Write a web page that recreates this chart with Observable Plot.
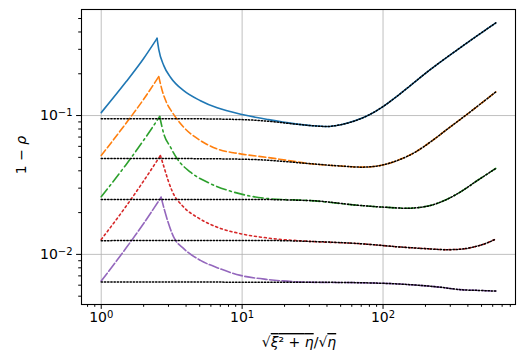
<!DOCTYPE html>
<html><head><meta charset="utf-8">
<script src="https://cdn.jsdelivr.net/npm/d3@7"></script>
<script src="https://cdn.jsdelivr.net/npm/@observablehq/plot@0.6"></script>
<style>
body{margin:0;background:#fff;}
svg{font-family:"DejaVu Sans",sans-serif;}
</style>
</head><body><div id="chart"></div>
<script>
// ---- data ----
const colors = ["#1f77b4", "#ff7f0e", "#2ca02c", "#d62728", "#9467bd"];
const dashes = ["none", "7,3", "10,3.5,2,3.5", "2,3", "10,2.5"];

// coloured curves (rise to peak, decay toward asymptote)
const s1X = [1, 1.5, 2, 2.49, 2.56, 2.78, 3.10, 3.85, 5.06, 6.65, 10, 15.4, 23.2];
const s1Y = [0.105, 0.175, 0.258, 0.36, 0.30, 0.229, 0.189, 0.151, 0.128, 0.1136, 0.1017, 0.0935, 0.0875];
const s2X = [1, 1.5, 2, 2.56, 2.71, 2.94, 3.19, 3.85, 5.06, 6.65, 9.73, 15.4, 21];
const s2Y = [0.0516, 0.088, 0.131, 0.191, 0.151, 0.121, 0.1056, 0.0824, 0.066, 0.0575, 0.053, 0.0498, 0.0475];
const s3X = [1, 1.5, 2, 2.60, 2.78, 3.10, 3.46, 4.30, 5.96, 8.71, 15.4];
const s3Y = [0.026, 0.0443, 0.0664, 0.0984, 0.0738, 0.0592, 0.0488, 0.0391, 0.0323, 0.0281, 0.0252];
const s4X = [1, 1.5, 2, 2.63, 2.80, 3.0, 3.19, 3.85, 4.80, 6.65, 9.73, 15.4];
const s4Y = [0.0128, 0.0222, 0.0338, 0.0515, 0.042, 0.0335, 0.0285, 0.0219, 0.0185, 0.0157, 0.0141, 0.0131];
const s5X = [1, 1.5, 2, 2.66, 2.86, 3.27, 3.85, 5.06, 6.65, 9.73, 15.4];
const s5Y = [0.00642, 0.0111, 0.0167, 0.0258, 0.0196, 0.0133, 0.011, 0.00905, 0.00802, 0.00706, 0.00658];

// black dotted asymptotes
const d1X = [1, 3.16, 10, 13.5, 23.2, 31.6, 39.8, 50.1, 63.1, 79.4, 100, 126, 158, 216, 372, 631];
const d1Y = [0.095, 0.095, 0.0935, 0.092, 0.0871, 0.0845, 0.0834, 0.0859, 0.0916, 0.101, 0.1161, 0.138, 0.166, 0.214, 0.32, 0.465];
const d2X = [1, 3.16, 10, 13.5, 30.5, 50.1, 70.8, 95.5, 126, 165, 224, 284, 384, 631];
const d2Y = [0.049, 0.049, 0.0485, 0.048, 0.045, 0.0433, 0.0425, 0.0437, 0.0474, 0.0537, 0.0661, 0.0794, 0.1, 0.148];
const d3X = [1, 10, 30.5, 69, 100, 148, 200, 269, 355, 464, 631];
const d3Y = [0.0249, 0.0249, 0.0244, 0.0225, 0.0219, 0.0215, 0.0221, 0.0243, 0.0282, 0.0339, 0.0416];
const d4X = [1, 13.5, 30.5, 69, 133, 200, 282, 355, 447, 525, 631];
const d4Y = [0.01256, 0.0126, 0.0124, 0.01194, 0.0113, 0.011, 0.01081, 0.0109, 0.01135, 0.0119, 0.0129];
const d5X = [1, 30.5, 69, 156, 251, 354, 501, 631];
const d5Y = [0.00632, 0.0063, 0.00625, 0.00605, 0.00581, 0.00557, 0.00549, 0.00544];

// ticks
const xMajor = [1, 10, 100];
const xMajorExp = ["0", "1", "2"];
const yMajor = [0.01, 0.1];
const yMajorExp = ["−2", "−1"];

// ---- build ----
const curveX = [s1X, s2X, s3X, s4X, s5X];
const curveY = [s1Y, s2Y, s3Y, s4Y, s5Y];
const asymX = [d1X, d2X, d3X, d4X, d5X];
const asymY = [d1Y, d2Y, d3Y, d4Y, d5Y];

function curveRows(i) {
  const xs = curveX[i], ys = curveY[i];
  const peak = ys.indexOf(d3.max(ys.slice(0, 6)));
  const rows = [];
  xs.forEach((x, k) => {
    if (k <= peak) rows.push({x, y: ys[k], seg: "rise"});
    if (k >= peak) rows.push({x, y: ys[k], seg: "fall"});
  });
  const last = xs[xs.length - 1];
  asymX[i].forEach((x, k) => { if (x > last) rows.push({x, y: asymY[i][k], seg: "fall"}); });
  return rows;
}
function asymRows(i) { return asymX[i].map((x, k) => ({x, y: asymY[i][k]})); }

const xMinor = [], yMinor = [];
for (const e of [-1, 0, 1, 2]) for (let m = 2; m <= 9; m++) xMinor.push(m * 10 ** e);
for (const e of [-3, -2, -1]) for (let m = 2; m <= 9; m++) yMinor.push(m * 10 ** e);

const xDomain = [10 ** -0.14, 10 ** 2.94];
const yDomain = [10 ** -2.361, 10 ** -0.236];

const marks = [
  Plot.gridX(xMajor, {stroke: "#b0b0b0", strokeOpacity: 1, strokeWidth: 0.8}),
  Plot.gridY(yMajor, {stroke: "#b0b0b0", strokeOpacity: 1, strokeWidth: 0.8}),
];
for (let i = 0; i < 5; i++) {
  marks.push(Plot.line(curveRows(i), {x: "x", y: "y", z: "seg", stroke: colors[i], strokeWidth: 1.6,
    strokeDasharray: dashes[i], curve: "monotone-x"}));
}
for (let i = 0; i < 5; i++) {
  marks.push(Plot.line(asymRows(i), {x: "x", y: "y", stroke: "black", strokeWidth: 1.5,
    strokeDasharray: "1.3,1.9", curve: "monotone-x"}));
}
marks.push(
  Plot.axisX({ticks: xMinor.filter(v => v >= xDomain[0] && v <= xDomain[1]), tickSize: 2.8, tickFormat: () => "", label: null, strokeWidth: 1}),
  Plot.axisY({ticks: yMinor.filter(v => v >= yDomain[0] && v <= yDomain[1]), tickSize: 2.8, tickFormat: () => "", label: null, strokeWidth: 1}),
  Plot.axisX({ticks: xMajor, tickSize: 4.9, tickPadding: 3, tickFormat: d => "10^" + xMajorExp[xMajor.indexOf(d)], label: null, strokeWidth: 1, fontSize: 14}),
  Plot.axisY({ticks: yMajor, tickSize: 4.9, tickPadding: 4, tickFormat: d => "10^" + yMajorExp[yMajor.indexOf(d)], label: null, strokeWidth: 1, fontSize: 14}),
  Plot.frame({stroke: "black", strokeWidth: 1.1})
);

const plot = Plot.plot({
  width: 527, height: 359,
  marginLeft: 81, marginRight: 12, marginTop: 9, marginBottom: 55,
  style: {fontFamily: "DejaVu Sans, sans-serif", fontSize: "14px", color: "black", background: "white"},
  x: {type: "log", domain: xDomain},
  y: {type: "log", domain: yDomain},
  marks
});
document.getElementById("chart").appendChild(plot);

const svg = d3.select(plot);
// superscript tick labels
svg.selectAll("text").each(function() {
  const t = this.textContent;
  const m = /^10\^(.+)$/.exec(t);
  if (!m) return;
  const sel = d3.select(this);
  sel.text(null);
  sel.append("tspan").text("10");
  sel.append("tspan").attr("dy", "-0.42em").style("font-size", "10px").text(m[1]);
});

// y label: 1 − ρ
const yl = svg.append("text")
  .attr("transform", "translate(21,155) rotate(-90)")
  .attr("text-anchor", "middle").attr("dominant-baseline", "central")
  .style("font-size", "14px").attr("fill", "black");
yl.append("tspan").text("1 − ");
yl.append("tspan").style("font-style", "italic").text("ρ");

// x label: √(ξ²+η)/√η
const xl = svg.append("text")
  .attr("x", 299).attr("y", 347)
  .attr("text-anchor", "middle")
  .style("font-size", "14px").attr("fill", "black");
xl.append("tspan").text("√");
const o1 = xl.append("tspan").style("text-decoration", "overline");
o1.append("tspan").style("font-style", "italic").text("ξ");
o1.append("tspan").text("² + ");
o1.append("tspan").style("font-style", "italic").text("η");
xl.append("tspan").text("/√");
xl.append("tspan").style("text-decoration", "overline").style("font-style", "italic").text("η");
</script>
</body></html>
